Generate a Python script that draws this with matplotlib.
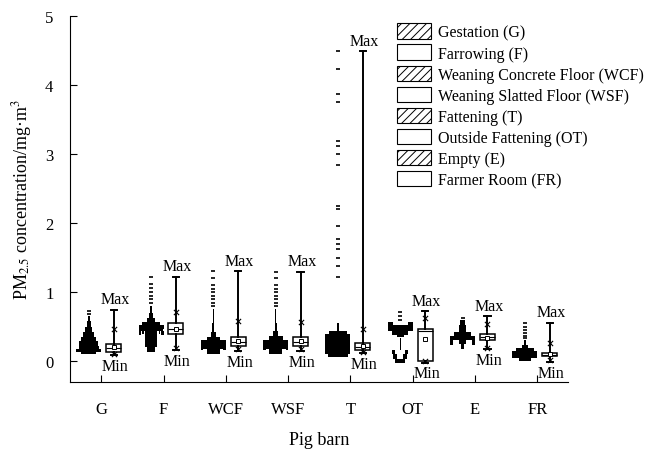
import matplotlib.pyplot as plt
import numpy as np
from matplotlib.patches import Patch

plt.rcParams['font.family'] = ['Liberation Serif', 'DejaVu Serif']
plt.rcParams['mathtext.fontset'] = 'stix'
plt.rcParams['hatch.linewidth'] = 0.7

barns = ['G', 'F', 'WCF', 'WSF', 'T', 'OT', 'E', 'FR']
names = ['Gestation (G)', 'Farrowing (F)', 'Weaning Concrete Floor (WCF)',
         'Weaning Slatted Floor (WSF)', 'Fattening (T)', 'Outside Fattening (OT)',
         'Empty (E)', 'Farmer Room (FR)']

# box statistics (mg/m3)
mins = [0.09, 0.16, 0.15, 0.15, 0.12, -0.02, 0.17, -0.01]
p1 = [0.11, 0.19, 0.17, 0.17, 0.13, 0.0, 0.19, 0.01]
q1 = [0.13, 0.39, 0.22, 0.22, 0.16, 0.0, 0.30, 0.07]
medians = [0.19, 0.47, 0.28, 0.28, 0.21, 0.44, 0.35, 0.09]
means = [0.20, 0.46, 0.29, 0.29, 0.22, 0.32, 0.34, 0.10]
q3 = [0.25, 0.55, 0.35, 0.35, 0.26, 0.47, 0.39, 0.12]
p99 = [0.46, 0.71, 0.58, 0.57, 0.46, 0.62, 0.54, 0.27]
maxs = [0.74, 1.22, 1.30, 1.29, 4.49, 0.72, 0.65, 0.55]

# point clouds: (low, high, relative width, hollow middle)
cloud_G = [(0.10, 0.13, 0.6, 0), (0.13, 0.18, 1.0, 0), (0.18, 0.22, 0.8, 0),
           (0.22, 0.29, 0.75, 0), (0.29, 0.35, 0.6, 0), (0.35, 0.42, 0.45, 0),
           (0.42, 0.50, 0.3, 0), (0.50, 0.58, 0.15, 0), (0.58, 0.66, 0.06, 0)]
cloud_F = [(0.13, 0.20, 0.35, 0), (0.20, 0.32, 0.45, 0), (0.32, 0.43, 0.5, 0),
           (0.38, 0.43, 1.0, 0.8), (0.40, 0.43, 0.75, 0.6), (0.43, 0.47, 0.95, 0),
           (0.47, 0.52, 1.0, 0), (0.52, 0.57, 0.7, 0), (0.57, 0.63, 0.35, 0),
           (0.63, 0.70, 0.18, 0), (0.70, 0.80, 0.07, 0)]
cloud_WCF = [(0.10, 0.17, 0.5, 0), (0.17, 0.21, 0.8, 0), (0.21, 0.31, 1.0, 0),
             (0.16, 0.21, 1.0, 0.8), (0.31, 0.35, 0.55, 0), (0.35, 0.42, 0.18, 0),
             (0.42, 0.55, 0.08, 0), (0.55, 0.75, 0.04, 0)]
cloud_WSF = [(0.10, 0.17, 0.5, 0), (0.17, 0.21, 0.8, 0), (0.21, 0.31, 1.0, 0),
             (0.16, 0.21, 1.0, 0.8), (0.31, 0.36, 0.55, 0), (0.36, 0.43, 0.18, 0),
             (0.43, 0.55, 0.08, 0), (0.55, 0.75, 0.04, 0)]
cloud_T = [(0.06, 0.10, 0.8, 0), (0.10, 0.40, 1.0, 0), (0.40, 0.44, 0.7, 0),
           (0.44, 0.55, 0.06, 0), (0.55, 1.05, 0.035, 0)]
cloud_OT = [(-0.02, 0.03, 0.4, 0), (0.03, 0.10, 0.55, 0.25), (0.10, 0.16, 0.65, 0.4),
            (0.16, 0.34, 0.03, 0), (0.35, 0.38, 0.3, 0), (0.38, 0.44, 0.65, 0),
            (0.44, 0.52, 1.0, 0), (0.52, 0.57, 1.0, 0.6)]
cloud_E = [(0.17, 0.25, 0.12, 0), (0.24, 0.30, 1.0, 0.75), (0.25, 0.30, 0.25, 0),
           (0.30, 0.36, 1.0, 0), (0.36, 0.42, 0.7, 0), (0.42, 0.52, 0.3, 0),
           (0.52, 0.60, 0.2, 0)]
cloud_FR = [(0.00, 0.04, 0.5, 0), (0.04, 0.15, 1.0, 0), (0.15, 0.19, 0.7, 0),
            (0.19, 0.23, 0.25, 0), (0.23, 0.30, 0.06, 0)]

dots_G = [0.69, 0.72]
dots_F = [0.85, 0.90, 0.95, 1.00, 1.06, 1.12, 1.22]
dots_WCF = [0.80, 0.85, 0.90, 0.95, 1.00, 1.05, 1.10, 1.20, 1.30]
dots_WSF = [0.80, 0.85, 0.90, 0.95, 1.00, 1.05, 1.10, 1.20, 1.29]
dots_T = [1.22, 1.38, 1.50, 1.62, 1.70, 1.77, 1.96, 2.20, 2.25, 2.84, 3.00,
          3.12, 3.19, 3.75, 3.87, 4.23, 4.49]
dots_OT = [0.60, 0.65, 0.71]
dots_E = [0.63]
dots_FR = [0.33, 0.37, 0.41, 0.45, 0.50, 0.55]

clouds = [cloud_G, cloud_F, cloud_WCF, cloud_WSF, cloud_T, cloud_OT, cloud_E, cloud_FR]
dots = [dots_G, dots_F, dots_WCF, dots_WSF, dots_T, dots_OT, dots_E, dots_FR]

fig = plt.figure(figsize=(6.61, 4.52), dpi=100)
ax = fig.add_axes([0.106, 0.153, 0.754, 0.809])

x = np.arange(1, len(barns) + 1)
half = 0.2  # half width of a full cloud row

# point clouds left of the tick
for i in range(len(barns)):
    cx = x[i] - 0.2
    for lo, hi, w, hole in clouds[i]:
        if hole == 0:
            ax.barh(lo, 2 * w * half, height=hi - lo, left=cx - w * half,
                    align='edge', color='black', lw=0)
        else:
            side = (w - hole) * half
            ax.barh([lo, lo], [side, side], height=hi - lo,
                    left=[cx - w * half, cx + hole * half],
                    align='edge', color='black', lw=0)
    ax.scatter(np.full(len(dots[i]), cx), dots[i], s=5, marker='_',
               color='black', lw=1.2)

# box plots right of the tick
stats = []
for i in range(len(barns)):
    stats.append(dict(med=medians[i], q1=q1[i], q3=q3[i], whislo=mins[i],
                      whishi=maxs[i], mean=means[i], fliers=[]))
bx = x + 0.2
ax.bxp(stats, positions=bx, widths=0.24, showmeans=True, patch_artist=True,
       capwidths=0.1,
       boxprops=dict(facecolor='white', edgecolor='black', lw=1.1),
       medianprops=dict(color='black', lw=0.8),
       whiskerprops=dict(color='black', lw=1.4),
       capprops=dict(color='black', lw=1.4),
       meanprops=dict(marker='s', markersize=3, markerfacecolor='white',
                      markeredgecolor='black', markeredgewidth=0.7))
ax.scatter(bx, p99, marker='x', s=14, color='black', lw=0.8, zorder=4)
ax.scatter(bx, p1, marker='x', s=14, color='black', lw=0.8, zorder=4)

for i in range(len(barns)):
    ax.annotate('Max', (bx[i], maxs[i]), xytext=(1, 2), textcoords='offset points',
                ha='center', va='bottom', fontsize=11.5)
    ax.annotate('Min', (bx[i], mins[i]), xytext=(1, -2), textcoords='offset points',
                ha='center', va='top', fontsize=11.5)

ax.set_xlim(0.5, 8.5)
ax.set_ylim(-0.3, 5)
ax.set_xticks(x)
ax.set_xticklabels(barns)
ax.set_yticks(np.arange(0, 6, 1))
ax.spines['top'].set_visible(False)
ax.spines['right'].set_visible(False)
ax.tick_params(direction='in', length=5, labelsize=12)
ax.tick_params(axis='x', pad=14)
ax.tick_params(axis='y', pad=12)
ax.set_xlabel('Pig barn', fontsize=13, labelpad=10)
ax.set_ylabel('PM$_{2.5}$ concentration/mg·m$^{3}$', fontsize=13, labelpad=8)

handles = [Patch(facecolor='white', edgecolor='black', lw=0.8,
                 hatch='////' if i % 2 == 0 else None, label=n)
           for i, n in enumerate(names)]
ax.legend(handles=handles, loc='upper left', bbox_to_anchor=(0.600, 0.946),
          bbox_transform=fig.transFigure, frameon=False, fontsize=11.5,
          handlelength=2.15, handleheight=1.1, labelspacing=0.25,
          handletextpad=0.45, borderpad=0, borderaxespad=0)

fig.savefig('out.png', dpi=100)
